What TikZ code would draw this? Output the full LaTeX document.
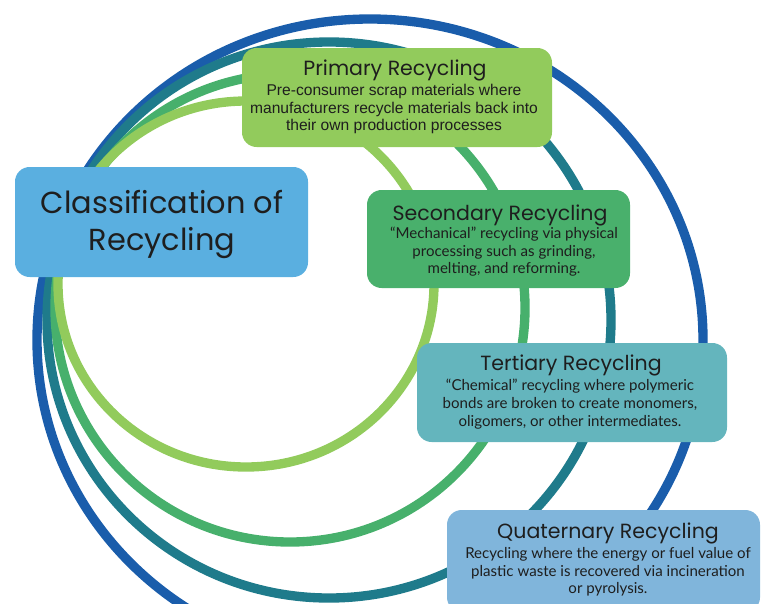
\documentclass[tikz,border=0pt]{standalone}
\usepackage{fontspec}
\setmainfont{Liberation Sans}
\newfontfamily\titlefont{Poppins}
\newfontfamily\latofont{Lato}
\newfontfamily\arialfont{Liberation Sans}
\definecolor{ringBlue}{HTML}{1A5DAB}
\definecolor{ringTeal}{HTML}{1F7B8B}
\definecolor{ringGreen}{HTML}{47B06C}
\definecolor{ringLight}{HTML}{92CB5C}
\definecolor{boxClass}{HTML}{5AAFE0}
\definecolor{boxPrim}{HTML}{92CB5C}
\definecolor{boxSec}{HTML}{49B06C}
\definecolor{boxTer}{HTML}{64B5BD}
\definecolor{boxQuat}{HTML}{80B5DB}
\definecolor{txt}{HTML}{1E1E1E}
\begin{document}
\begin{tikzpicture}[x=0.75pt,y=-0.75pt,
  ring/.style={line width=7pt},
  card/.style={rounded corners=11pt, inner sep=0pt, draw=none},
  bigtitle/.style={anchor=base, inner sep=0pt, text=txt, font=\titlefont\fontsize{22.8}{26}\selectfont},
  cardtitle/.style={anchor=base, inner sep=0pt, text=txt, font=\titlefont\fontsize{15.4}{18}\selectfont},
  armbody/.style={anchor=base, inner sep=0pt, text=txt, font=\arialfont\fontsize{11.7}{14}\selectfont},
  latobody/.style={anchor=base, inner sep=0pt, text=txt, font=\latofont\fontsize{11.3}{14}\selectfont}
]
\useasboundingbox (0,0) rectangle (762,603);
% rings
\draw[ring, ringBlue]  (370,340) ellipse [x radius=333, y radius=321];
\draw[ring, ringTeal]  (329,320) ellipse [x radius=282, y radius=278];
\draw[ring, ringGreen] (290,308) ellipse [x radius=235, y radius=234];
\draw[ring, ringLight] (246,284) ellipse [x radius=188, y radius=183];
% cards
\node[card, fill=boxClass, minimum width=219.75pt, minimum height=82.5pt] (cls) at (161.5,222) {};
\node[card, fill=boxPrim, minimum width=232.5pt, minimum height=74.25pt] (prim) at (397,97.5) {};
\node[card, fill=boxSec, minimum width=197.25pt, minimum height=73.5pt] (sec) at (498.5,239) {};
\node[card, fill=boxTer, minimum width=232.5pt, minimum height=74.25pt] (ter) at (572,392.5) {};
\node[card, fill=boxQuat, minimum width=234.75pt, minimum height=76.5pt] (quat) at (603.5,561) {};
% texts
\node[bigtitle] (cls1) at (162,213) {Classification of};
\node[bigtitle] (cls2) at (162,250) {Recycling};

\node[cardtitle] (primT) at (395,75) {Primary Recycling};
\node[armbody] (prim1) at (394,95) {Pre-consumer scrap materials where};
\node[armbody] (prim2) at (394,113) {manufacturers recycle materials back into};
\node[armbody] (prim3) at (394,130) {their own production processes};

\node[cardtitle] (secT) at (500,220) {Secondary Recycling};
\node[latobody] (sec1) at (504,238) {“Mechanical” recycling via physical};
\node[latobody] (sec2) at (504,256) {processing such as grinding,};
\node[latobody] (sec3) at (504,273) {melting, and reforming.};

\node[cardtitle] (terT) at (571,370) {Tertiary Recycling};
\node[latobody] (ter1) at (570,390) {“Chemical” recycling where polymeric};
\node[latobody] (ter2) at (570,408) {bonds are broken to create monomers,};
\node[latobody] (ter3) at (570,426) {oligomers, or other intermediates.};

\node[cardtitle] (quatT) at (608,538) {Quaternary Recycling};
\node[latobody] (quat1) at (608,558) {Recycling where the energy or fuel value of};
\node[latobody] (quat2) at (608,576) {plastic waste is recovered via incineration};
\node[latobody] (quat3) at (608,593) {or pyrolysis.};
\end{tikzpicture}
\end{document}
